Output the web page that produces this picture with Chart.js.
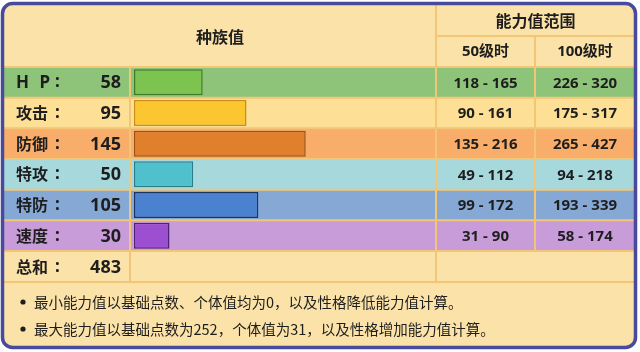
<!DOCTYPE html>
<html>
<head>
<meta charset="utf-8">
<title>种族值</title>
<script src="https://cdn.jsdelivr.net/npm/chart.js@4.4.1/dist/chart.umd.min.js"></script>
<style>
    html, body { margin: 0; padding: 0; background: #fff; }
    #wrap { width: 640px; height: 352px; }
</style>
</head>
<body>
<div id="wrap"><canvas id="statChart" width="640" height="352"></canvas></div>
<script>
'use strict';

/* Data */
const statNames = ['H P', '攻击', '防御', '特攻', '特防', '速度'];
const baseStats = [58, 95, 145, 50, 105, 30];
const min50 = [118, 90, 135, 49, 99, 31];
const max50 = [165, 161, 216, 112, 172, 90];
const min100 = [226, 175, 265, 94, 193, 58];
const max100 = [320, 317, 427, 218, 339, 174];
const totalName = '总和';
const totalValue = 483;
const headers = ['种族值', '能力值范围', '50级时', '100级时'];
const notes = [
    '最小能力值以基础点数、个体值均为0，以及性格降低能力值计算。',
    '最大能力值以基础点数为252，个体值为31，以及性格增加能力值计算。'
];

/* Styles */
const rowColors = ['#8ec47a', '#fde096', '#f9ad6a', '#a7d8dc', '#86a8d4', '#c89cd9'];
const barColors = ['#7cc350', '#fbc630', '#e0802e', '#4fc0cc', '#4a82d0', '#9c4fd0'];
const barBorders = ['#3f7a28', '#c88e18', '#9a5016', '#2a7d8a', '#1a3360', '#4e2272'];
const tan = '#fbe2a8';
const gridColor = '#f2c577';
const frameColor = '#484a9c';
const textColor = '#1e1e1e';
const cjk = '"Noto Sans CJK SC"';
const latin = '"Noto Sans", "Noto Sans CJK SC"';

// column positions (px)
const colLeft = 4, colRight = 635, colRange = 535;

const tablePlugin = {
    id: 'tablePlugin',
    beforeDraw(chart) {
        const ctx = chart.ctx;
        const area = chart.chartArea;
        const y = chart.scales.y;
        const rowH = (area.bottom - area.top) / statNames.length;
        const colStat = area.left - 4;
        const totalBottom = area.bottom + 31;

        ctx.save();
        ctx.fillStyle = '#fff';
        ctx.fillRect(0, 0, chart.width, chart.height);

        // table background
        ctx.beginPath();
        ctx.roundRect(2.5, 3.5, 633, 344, 10);
        ctx.fillStyle = tan;
        ctx.fill();

        // row bands
        statNames.forEach((name, i) => {
            const yc = y.getPixelForValue(i);
            ctx.fillStyle = rowColors[i];
            ctx.fillRect(colLeft, yc - rowH / 2, colRight - colLeft, rowH);
        });

        // grid lines
        ctx.strokeStyle = gridColor;
        ctx.lineWidth = 2;
        ctx.beginPath();
        for (let i = 0; i <= statNames.length; i++) {
            const yy = area.top + i * rowH;
            ctx.moveTo(colLeft, yy);
            ctx.lineTo(colRight, yy);
        }
        ctx.moveTo(colLeft, totalBottom);
        ctx.lineTo(colRight, totalBottom);
        ctx.moveTo(area.right, 36);
        ctx.lineTo(colRight, 36);
        ctx.moveTo(colStat, area.top);
        ctx.lineTo(colStat, totalBottom);
        ctx.moveTo(area.right, 5);
        ctx.lineTo(area.right, totalBottom);
        ctx.moveTo(colRange, 36);
        ctx.lineTo(colRange, area.bottom);
        ctx.stroke();
        ctx.restore();
    },
    afterDatasetsDraw(chart) {
        const ctx = chart.ctx;
        const area = chart.chartArea;
        const y = chart.scales.y;
        const c50 = (area.right + colRange) / 2;
        const c100 = (colRange + colRight) / 2;

        ctx.save();
        ctx.fillStyle = textColor;
        ctx.textBaseline = 'middle';

        // headers
        ctx.textAlign = 'center';
        ctx.font = 'bold 16px ' + cjk;
        ctx.fillText(headers[0], (colLeft + area.right) / 2, 37);
        ctx.fillText(headers[1], (area.right + colRight) / 2, 21);
        ctx.font = 'bold 15px ' + latin;
        ctx.fillText(headers[2], c50, 52);
        ctx.fillText(headers[3], c100, 52);

        // rows
        statNames.forEach((name, i) => {
            const yc = y.getPixelForValue(i);
            ctx.textAlign = 'left';
            if (i === 0) {
                ctx.font = 'bold 17px ' + latin;
                ctx.letterSpacing = '3px';
                ctx.fillText(name, 16, yc + 1);
                ctx.letterSpacing = '0px';
            } else {
                ctx.font = 'bold 16px ' + cjk;
                ctx.fillText(name, 16, yc);
            }
            ctx.font = 'bold 17px ' + latin;
            ctx.fillText(':', 55, yc);
            ctx.textAlign = 'right';
            ctx.font = 'bold 18px ' + latin;
            ctx.fillText(String(baseStats[i]), 121, yc + 1);
            ctx.textAlign = 'center';
            ctx.font = 'bold 15px ' + latin;
            ctx.fillText(min50[i] + ' - ' + max50[i], c50, yc + 1);
            ctx.fillText(min100[i] + ' - ' + max100[i], c100, yc + 1);
        });

        // total row
        const yt = area.bottom + 16;
        ctx.textAlign = 'left';
        ctx.font = 'bold 16px ' + cjk;
        ctx.fillText(totalName, 16, yt);
        ctx.font = 'bold 17px ' + latin;
        ctx.fillText(':', 55, yt);
        ctx.textAlign = 'right';
        ctx.font = 'bold 18px ' + latin;
        ctx.fillText(String(totalValue), 121, yt + 1);

        // notes
        ctx.textAlign = 'left';
        notes.forEach((note, i) => {
            const yn = 302 + i * 27;
            ctx.beginPath();
            ctx.arc(23, yn, 2.6, 0, Math.PI * 2);
            ctx.fill();
            ctx.font = '14.5px ' + cjk;
            ctx.fillText(note, 34, yn);
        });
        ctx.restore();
    },
    afterDraw(chart) {
        const ctx = chart.ctx;
        ctx.save();
        ctx.beginPath();
        ctx.roundRect(2.5, 3.5, 633, 344, 10);
        ctx.strokeStyle = frameColor;
        ctx.lineWidth = 3.5;
        ctx.stroke();
        ctx.restore();
    }
};

new Chart(document.getElementById('statChart'), {
    type: 'bar',
    data: {
        labels: statNames,
        datasets: [{
            data: baseStats,
            backgroundColor: barColors,
            borderColor: barBorders,
            borderWidth: 1.5,
            borderSkipped: false,
            barPercentage: 0.85,
            categoryPercentage: 1
        }]
    },
    options: {
        indexAxis: 'y',
        responsive: false,
        animation: false,
        layout: {
            padding: { left: 134, right: 204, top: 67, bottom: 101 }
        },
        scales: {
            x: { display: false, min: 0, max: 255 },
            y: { display: false }
        },
        plugins: {
            legend: { display: false },
            tooltip: { enabled: false }
        }
    },
    plugins: [tablePlugin]
});
</script>
</body>
</html>
